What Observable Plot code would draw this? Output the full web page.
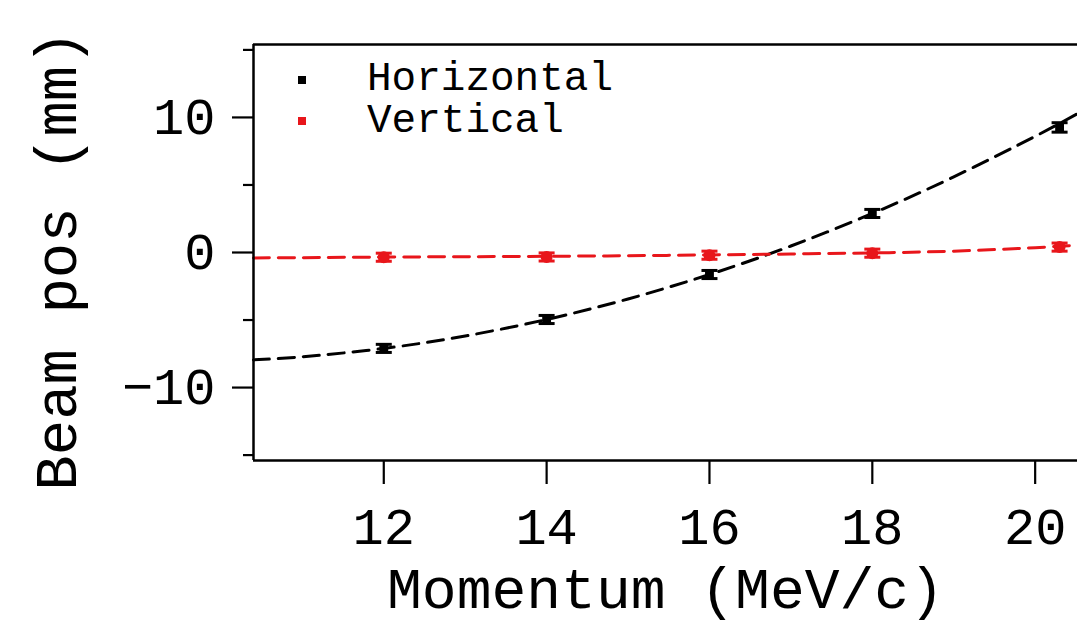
<!DOCTYPE html>
<html>
<head>
<meta charset="utf-8">
<script src="https://cdn.jsdelivr.net/npm/d3@7"></script>
<script src="https://cdn.jsdelivr.net/npm/@observablehq/plot@0.6"></script>
<style>
  html, body { margin: 0; padding: 0; background: #fff; }
  #wrap { position: relative; width: 1077px; height: 621px; overflow: hidden; font-family: "Liberation Mono", monospace; }
  .lg-sq { position: absolute; width: 8px; height: 8px; }
  .lg-tx { position: absolute; font-size: 41px; line-height: 41px; color: #000; white-space: pre; }
</style>
</head>
<body>
<div id="wrap"></div>
<script>
// ---- data ----
const momentum = [12, 14, 16, 18, 20.3];
const horizontal = [-7.1, -4.96, -1.63, 2.89, 9.26];
const horizontalErr = [0.3, 0.3, 0.3, 0.3, 0.35];
const vertical = [-0.35, -0.33, -0.2, -0.05, 0.4];
const verticalErr = [0.3, 0.3, 0.3, 0.3, 0.3];

// fitted curves
const fitX = [10.4, 11, 12, 13, 14, 15, 16, 17, 18, 19, 20, 20.52];
const fitHorizontal = [-7.95, -7.72, -7.1, -6.18, -4.96, -3.44, -1.63, 0.48, 2.89, 5.6, 8.6, 10.28];
const fitVertical = [-0.4, -0.38, -0.34, -0.31, -0.28, -0.24, -0.18, -0.11, -0.03, 0.1, 0.36, 0.55];

const xTicks = [12, 14, 16, 18, 20];
const yMajorTicks = [-10, 0, 10];
const yMinorTicks = [-15, -5, 5, 15];
const xDomain = [10.4, 20.52];
const yDomain = [-15.4, 15.4];

const seriesNames = ["Horizontal", "Vertical"];
const seriesColors = ["#000000", "#e8161b"];
const xTitle = "Momentum (MeV/c)";
const yTitle = "Beam pos (mm)";

// ---- build tables ----
const H = momentum.map((x, i) => ({x, y: horizontal[i], e: horizontalErr[i]}));
const V = momentum.map((x, i) => ({x, y: vertical[i], e: verticalErr[i]}));
const fitH = fitX.map((x, i) => ({x, y: fitHorizontal[i]}));
const fitV = fitX.map((x, i) => ({x, y: fitVertical[i]}));

const FONT = "Liberation Mono";
const cap = { draw(context, size) { const w = Math.sqrt(size / Math.PI); context.moveTo(-w, 0); context.lineTo(w, 0); } };

function errMarks(data, color, symbol, r) {
  return [
    Plot.ruleX(data, {x: "x", y1: d => d.y - d.e, y2: d => d.y + d.e, stroke: color, strokeWidth: 3}),
    Plot.dot(data, {x: "x", y: d => d.y + d.e, symbol: cap, r: 8, stroke: color, strokeWidth: 3}),
    Plot.dot(data, {x: "x", y: d => d.y - d.e, symbol: cap, r: 8, stroke: color, strokeWidth: 3}),
    Plot.dot(data, {x: "x", y: "y", symbol, r, fill: color, stroke: "none"})
  ];
}

const chart = Plot.plot({
  width: 1077,
  height: 621,
  marginLeft: 253,
  marginTop: 44,
  marginBottom: 161,
  marginRight: 0,
  style: {fontFamily: FONT, background: "#fff", color: "#000"},
  x: {domain: xDomain},
  y: {domain: yDomain},
  marks: [
    Plot.line(fitH, {x: "x", y: "y", stroke: seriesColors[0], strokeWidth: 3, strokeDasharray: "16,9", curve: "natural"}),
    Plot.line(fitV, {x: "x", y: "y", stroke: seriesColors[1], strokeWidth: 3, strokeDasharray: "16,9", curve: "natural"}),
    ...errMarks(H, seriesColors[0], "square", 5),
    ...errMarks(V, seriesColors[1], "circle", 6),
    Plot.ruleX([xDomain[0]], {stroke: "#000", strokeWidth: 2.5}),
    Plot.ruleY([yDomain[0], yDomain[1]], {stroke: "#000", strokeWidth: 2.5}),
    Plot.axisX({ticks: xTicks, tickSize: 24, tickPadding: 23, fontSize: 52, fontFamily: FONT, label: null, strokeWidth: 2.2, fill: "#000"}),
    Plot.axisY({ticks: yMajorTicks, tickSize: 21, tickPadding: 17, fontSize: 52, fontFamily: FONT, label: null, strokeWidth: 2.2, fill: "#000"}),
    Plot.axisY({ticks: yMinorTicks, tickSize: 10, tickFormat: () => "", label: null, strokeWidth: 2.2}),
    Plot.text([xTitle], {text: d => d, frameAnchor: "bottom", lineAnchor: "middle", textAnchor: "middle", dy: 129, fontSize: 58, fontFamily: FONT, fill: "#000"}),
    Plot.text([yTitle], {text: d => d, frameAnchor: "left", textAnchor: "middle", lineAnchor: "middle", dx: -196, dy: 8, rotate: -90, fontSize: 59, fontFamily: FONT, fill: "#000"})
  ]
});

const wrap = document.getElementById("wrap");
wrap.appendChild(chart);

// legend overlay
const legendRows = [{top: 80, base: 90}, {top: 121, base: 132}];
seriesNames.forEach((name, i) => {
  const sq = document.createElement("div");
  sq.className = "lg-sq";
  sq.style.left = (302 - 4) + "px";
  sq.style.top = (legendRows[i].top - 4) + "px";
  sq.style.background = seriesColors[i];
  wrap.appendChild(sq);
  const tx = document.createElement("div");
  tx.className = "lg-tx";
  tx.style.left = "367px";
  tx.style.top = (legendRows[i].base - 31.5) + "px";
  tx.textContent = name;
  wrap.appendChild(tx);
});
</script>
</body>
</html>
